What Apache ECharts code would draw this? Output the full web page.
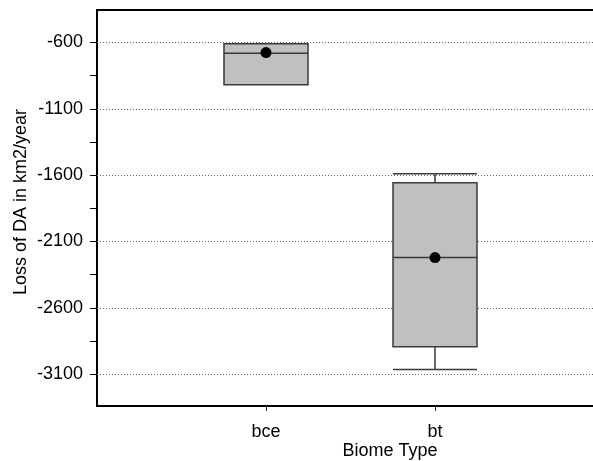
<!DOCTYPE html>
<html>
<head>
<meta charset="utf-8">
<script src="https://cdn.jsdelivr.net/npm/echarts@6/dist/echarts.min.js"></script>
<style>
html,body{margin:0;padding:0;background:#fff;}
#chart{width:593px;height:461px;}
</style>
</head>
<body>
<div id="chart"></div>
<script>
// Data
var categories = ['', 'bce', 'bt', ''];
// [min, Q1, median, Q3, max]
var boxBce = [-919, -919, -681, -610, -610];
var boxBt = [-3065, -2894, -2221, -1658, -1590];
var means = ['-', -676, -2221, '-'];
var yLabelValues = [-3100, -2600, -2100, -1600, -1100, -600];
var yTickValues = [-3100, -2850, -2600, -2350, -2100, -1850, -1600, -1350, -1100, -850, -600];
var xTitle = 'Biome Type';
var yTitle = 'Loss of DA in km2/year';

var BLANK = ['-', '-', '-', '-', '-'];
var FONT = 'Liberation Sans, Arial, sans-serif';
var FS = 18;
var chart = echarts.init(document.getElementById('chart'), null, {renderer: 'canvas'});
chart.setOption({
  animation: false,
  backgroundColor: '#fff',
  grid: {left: 97, top: 10, width: 507, height: 396, show: true, borderColor: '#000', borderWidth: 2, backgroundColor: 'transparent', containLabel: false, outerBoundsMode: 'none'},
  xAxis: {
    type: 'category',
    data: categories,
    boundaryGap: false,
    axisLine: {lineStyle: {color: '#000', width: 2}},
    axisTick: {show: true, length: 5, lineStyle: {color: '#333'}, interval: function (i, v) { return v !== ''; }},
    axisLabel: {color: '#000', fontSize: FS, fontFamily: FONT, margin: 17, interval: 0},
    splitLine: {show: false}
  },
  yAxis: {
    type: 'value',
    min: -3340,
    max: -355,
    axisLine: {show: true, lineStyle: {color: '#000', width: 2}},
    axisTick: {show: true, length: 7, lineStyle: {color: '#000'}, customValues: yTickValues},
    axisLabel: {color: '#000', fontSize: FS, fontFamily: FONT, margin: 14, customValues: yLabelValues,
      formatter: function (v) { return String(v); }},
    splitLine: {show: false}
  },
  graphic: [
    {type: 'text', x: 21, y: 202, rotation: Math.PI / 2,
     style: {text: yTitle, x: 0, y: 0, textAlign: 'center', textVerticalAlign: 'middle', font: FS + 'px ' + FONT, fill: '#000'}},
    {type: 'text', x: 390, y: 451,
     style: {text: xTitle, x: 0, y: 0, textAlign: 'center', textVerticalAlign: 'middle', font: FS + 'px ' + FONT, fill: '#000'}}
  ],
  series: [
    {
      type: 'boxplot',
      data: [BLANK, boxBce, boxBt, BLANK],
      boxWidth: [84, 84],
      itemStyle: {color: '#c0c0c0', borderColor: '#3a3a3a', borderWidth: 1.5},
      emphasis: {disabled: true},
      z: 3,
      markLine: {
        silent: true,
        symbol: ['none', 'none'],
        label: {show: false},
        lineStyle: {color: '#666', type: [1, 2], width: 1},
        data: yLabelValues.map(function (v) { return {yAxis: v}; }),
        z: 1
      }
    },
    {
      type: 'scatter',
      data: means,
      symbol: 'circle',
      symbolSize: 11,
      itemStyle: {color: '#000', opacity: 1},
      emphasis: {disabled: true},
      z: 5
    }
  ]
});
</script>
</body>
</html>
